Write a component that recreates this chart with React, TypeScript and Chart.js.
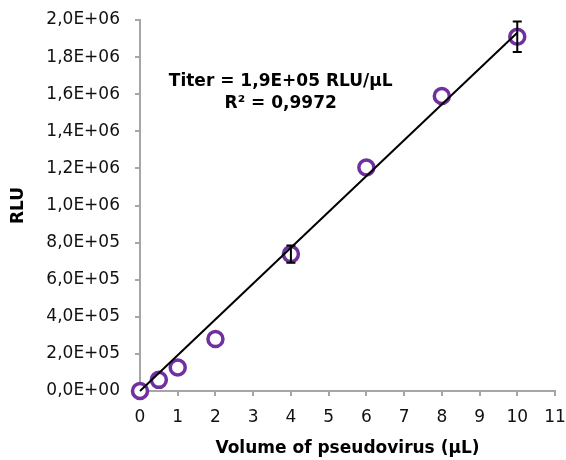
import React, { useEffect, useRef } from "react";
import { Chart, registerables } from "chart.js";

Chart.register(...registerables);

const volumes = [0, 0.5, 1, 2, 4, 6, 8, 10];
const rlu = [0, 60000, 127000, 280000, 738000, 1205000, 1590000, 1910000];
const rluErr = [0, 0, 0, 0, 46000, 0, 0, 82000];
const titerText = "Titer = 1,9E+05 RLU/µL";
const r2Text = "R² = 0,9972";
const xTitle = "Volume of pseudovirus (µL)";
const yTitle = "RLU";

const FONT = "'DejaVu Sans'";

function sci(v: number): string {
  if (Math.abs(v) < 1e-9) return "0,0E+00";
  const e = Math.floor(Math.log10(Math.abs(v)) + 1e-9);
  const m = v / Math.pow(10, e);
  const sign = e < 0 ? "-" : "+";
  return m.toFixed(1).replace(".", ",") + "E" + sign + String(Math.abs(e)).padStart(2, "0");
}

// least squares fit through origin
const slope = volumes.reduce((s, x, i) => s + x * rlu[i], 0) / volumes.reduce((s, x) => s + x * x, 0);
const fitX = [0, 10];

const errorBarPlugin = {
  id: "errorBars",
  afterDatasetsDraw(chart: any) {
    const ctx = chart.ctx;
    const xs = chart.scales.x;
    const ys = chart.scales.y;
    ctx.save();
    ctx.strokeStyle = "#000";
    ctx.lineWidth = 2;
    volumes.forEach((x, i) => {
      const e = rluErr[i];
      if (!e) return;
      const px = xs.getPixelForValue(x);
      const top = ys.getPixelForValue(rlu[i] + e);
      const bot = ys.getPixelForValue(rlu[i] - e);
      ctx.beginPath();
      ctx.moveTo(px, top);
      ctx.lineTo(px, bot);
      ctx.moveTo(px - 4.5, top);
      ctx.lineTo(px + 4.5, top);
      ctx.moveTo(px - 4.5, bot);
      ctx.lineTo(px + 4.5, bot);
      ctx.stroke();
    });
    ctx.restore();
  },
  afterDraw(chart: any) {
    const ctx = chart.ctx;
    const a = chart.chartArea;
    ctx.save();
    ctx.fillStyle = "#000";
    ctx.font = `bold 17px ${FONT}`;
    ctx.textAlign = "center";
    ctx.textBaseline = "middle";
    const cx = a.left + (a.right - a.left) * 0.339;
    const cy = a.top + (a.bottom - a.top) * 0.167;
    ctx.fillText(titerText, cx, cy);
    ctx.fillText(r2Text, cx, cy + 22);
    ctx.restore();
  },
};

export default function App() {
  const ref = useRef<HTMLCanvasElement>(null);
  useEffect(() => {
    if (!ref.current) return;
    const chart = new Chart(ref.current, {
      type: "scatter",
      data: {
        datasets: [
          {
            type: "line",
            data: fitX.map((x) => ({ x, y: slope * x })),
            borderColor: "#000",
            borderWidth: 2,
            pointRadius: 0,
            fill: false,
            clip: false,
            order: 0,
          } as any,
          {
            type: "scatter",
            data: volumes.map((x, i) => ({ x, y: rlu[i] })),
            pointRadius: 7.5,
            pointBorderWidth: 3.5,
            borderColor: "#7030A0",
            backgroundColor: "#ffffff",
            pointBackgroundColor: "#ffffff",
            pointBorderColor: "#7030A0",
            clip: false,
            order: 1,
          } as any,
        ],
      },
      options: {
        animation: false,
        responsive: false,
        maintainAspectRatio: false,
        layout: { padding: { left: 0, right: 11, top: 20, bottom: 0 } },
        plugins: { legend: { display: false }, tooltip: { enabled: false } },
        scales: {
          x: {
            type: "linear",
            min: 0,
            max: 11,
            afterFit: (s: any) => { s.height = 460 - 391; s.paddingLeft = 0; s.paddingRight = 0; },
            ticks: { stepSize: 1, color: "#111", font: { family: FONT, size: 17 }, padding: 11 },
            grid: { drawOnChartArea: false, drawTicks: true, tickLength: 5, color: "#a6a6a6", lineWidth: 2 },
            border: { color: "#a6a6a6", width: 2 },
            title: { display: true, text: xTitle, color: "#000", font: { family: FONT, size: 17, weight: "bold" }, padding: { top: 0, bottom: 1 } },
          },
          y: {
            type: "linear",
            min: 0,
            max: 2000000,
            afterFit: (s: any) => { s.width = 140; s.paddingTop = 0; s.paddingBottom = 0; },
            ticks: { stepSize: 200000, color: "#111", font: { family: FONT, size: 17 }, padding: 15, callback: (v: any) => sci(Number(v)) },
            grid: { drawOnChartArea: false, drawTicks: true, tickLength: 5, color: "#a6a6a6", lineWidth: 2 },
            border: { color: "#a6a6a6", width: 2 },
            title: { display: true, text: yTitle, color: "#000", font: { family: FONT, size: 17, weight: "bold" }, padding: { top: 8, bottom: 0 } },
          },
        },
      } as any,
      plugins: [errorBarPlugin],
    });
    return () => chart.destroy();
  }, []);
  return (
    <div style={{ position: "absolute", left: 0, top: 0, width: 566, height: 460, background: "#fff" }}>
      <canvas ref={ref} width={566} height={460} />
    </div>
  );
}
